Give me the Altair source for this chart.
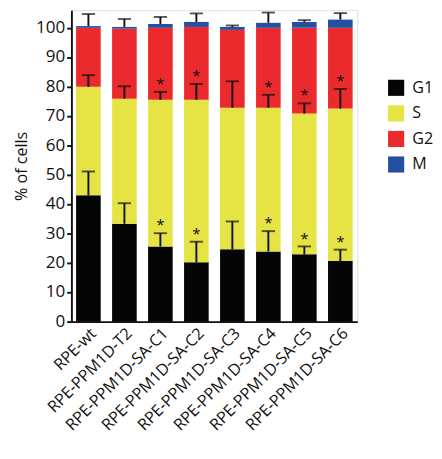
import altair as alt
import pandas as pd

categories = ["RPE-wt", "RPE-PPM1D-T2", "RPE-PPM1D-SA-C1", "RPE-PPM1D-SA-C2",
              "RPE-PPM1D-SA-C3", "RPE-PPM1D-SA-C4", "RPE-PPM1D-SA-C5", "RPE-PPM1D-SA-C6"]
phases = ["G1", "S", "G2", "M"]
colors = ["#050505", "#e6e444", "#eb2a2e", "#2550a2"]

G1 = [43.0, 33.3, 25.6, 20.2, 24.6, 23.9, 22.9, 20.6]
S = [36.9, 42.6, 49.9, 55.3, 48.2, 48.9, 47.9, 51.9]
G2 = [20.1, 23.8, 24.5, 24.8, 26.5, 27.2, 29.2, 27.5]
M = [0.6, 0.6, 1.3, 1.7, 1.0, 1.7, 2.0, 2.8]

G1_err = [8.1, 7.0, 4.5, 7.0, 9.5, 6.9, 2.7, 3.9]
S_err = [4.0, 4.2, 2.7, 5.4, 9.0, 4.4, 3.5, 6.7]
M_err = [4.1, 2.7, 2.4, 2.9, 0.5, 3.5, 0.6, 2.2]

star_g1 = [False, False, True, True, False, True, True, True]
star_s = [False, False, True, True, False, True, True, True]

series = {"G1": G1, "S": S, "G2": G2, "M": M}
rows = []
for p_i, p in enumerate(phases):
    for c, v in zip(categories, series[p]):
        rows.append({"cat": c, "phase": p, "value": v, "ord": p_i})
bars_df = pd.DataFrame(rows)

err_rows = []
star_rows = []
for i, c in enumerate(categories):
    top_g1 = G1[i]
    top_s = G1[i] + S[i]
    top_m = G1[i] + S[i] + G2[i] + M[i]
    for base, e, star in [(top_g1, G1_err[i], star_g1[i]), (top_s, S_err[i], star_s[i]),
                          (top_m, M_err[i], False)]:
        err_rows.append({"cat": c, "base": base, "end": base + e})
        if star:
            star_rows.append({"cat": c, "end": base + e, "star": "*"})
err_df = pd.DataFrame(err_rows)
star_df = pd.DataFrame(star_rows)

xscale = alt.Scale(domain=categories, paddingInner=0.316, paddingOuter=0.13)
yscale = alt.Scale(domain=[0, 106], nice=False)

x_axis = alt.Axis(labelAngle=-45, labelAlign="right", labelBaseline="top",
                  labelFontSize=17, labelFont="Open Sans", labelColor="#111",
                  ticks=False, domainColor="#111", domainWidth=2, labelPadding=4)
y_axis = alt.Axis(values=list(range(0, 101, 10)), grid=False, tickSize=5,
                  tickWidth=2, tickColor="#111", domainColor="#111", domainWidth=2,
                  labelFontSize=18, labelFont="Open Sans", labelColor="#111",
                  labelOverlap=False, labelFlush=False,
                  titleFontSize=17, titleFont="Open Sans", titleFontWeight="normal",
                  titleColor="#111", labelPadding=2, titlePadding=6)


def xe():
    return alt.X("cat:N", scale=xscale, sort=categories, title=None, axis=x_axis)


def ye(field):
    return alt.Y(field, scale=yscale, title="% of cells", axis=y_axis)


bars = alt.Chart(bars_df).mark_bar().encode(
    x=xe(),
    y=alt.Y("value:Q", stack="zero", scale=yscale, title="% of cells", axis=y_axis),
    color=alt.Color("phase:N", scale=alt.Scale(domain=phases, range=colors),
                    legend=alt.Legend(title=None, orient="none", legendX=334, legendY=73,
                                      symbolType="square", symbolSize=290,
                                      symbolStrokeWidth=0, symbolOpacity=1,
                                      labelFontSize=17, labelFont="Open Sans",
                                      labelColor="#111", rowPadding=9, labelOffset=8)),
    order=alt.Order("ord:Q"),
)

rules = alt.Chart(err_df).mark_rule(color="#111", strokeWidth=2).encode(
    x=xe(),
    y=ye("base:Q"),
    y2="end:Q",
)

caps = alt.Chart(err_df).mark_tick(color="#111", thickness=2, size=14, orient="horizontal").encode(
    x=xe(),
    y=ye("end:Q"),
)

stars = alt.Chart(star_df).mark_text(fontSize=16, font="Open Sans", color="#111",
                                     baseline="middle", dy=-8).encode(
    x=xe(),
    y=ye("end:Q"),
    text="star:N",
)

chart = alt.layer(bars, rules, caps, stars).properties(
    width=302, height=329
).configure_view(stroke=None).configure(padding={"left": 5, "top": -10, "right": 0, "bottom": 0})

chart.save("out.html", embed_options={"renderer": "svg", "actions": False})
